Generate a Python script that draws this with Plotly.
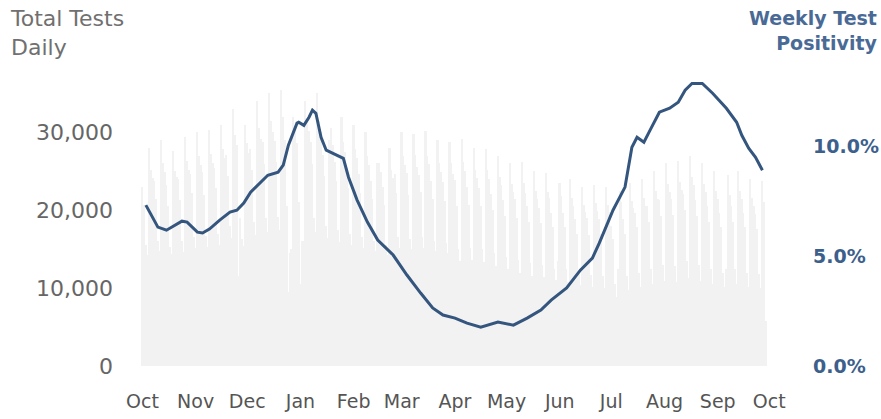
import pandas as pd
import plotly.graph_objects as go

# ---------------- data ----------------
bar_start = "2020-10-01"
# daily total tests (thousands); each row is one week Thu..Wed
daily_tests_k = [
    [23.0, 20.7, 15.5, 14.3, 28.0, 25.2, 24.1],
    [23.8, 21.5, 16.0, 14.7, 29.0, 26.1, 24.9],
    [23.2, 20.5, 15.3, 14.4, 27.6, 25.0, 24.3],
    [24.0, 21.3, 16.1, 14.6, 29.4, 26.3, 25.1],
    [24.6, 22.2, 16.5, 15.1, 30.0, 27.0, 25.8],
    [24.9, 22.0, 16.7, 15.3, 30.3, 27.2, 26.0],
    [25.4, 22.9, 17.0, 15.5, 31.0, 27.9, 26.7],
    [27.1, 24.4, 18.0, 16.4, 33.0, 29.7, 28.4],
    [11.5, 19.0, 16.3, 15.4, 31.0, 28.6, 27.4],
    [27.9, 25.2, 18.5, 16.8, 34.0, 30.6, 29.2],
    [28.7, 25.9, 19.0, 17.2, 35.0, 31.5, 30.1],
    [28.9, 26.2, 19.1, 17.4, 35.4, 32.0, 29.0],
    [20.5, 9.5, 14.5, 15.0, 32.0, 30.5, 28.6],
    [21.0, 10.5, 16.0, 16.0, 34.0, 31.5, 30.2],
    [28.7, 25.9, 19.0, 17.2, 35.0, 31.5, 30.1],
    [27.1, 24.4, 18.0, 16.4, 29.0, 30.5, 28.4],
    [26.2, 23.7, 17.5, 15.9, 32.0, 28.8, 27.5],
    [25.4, 22.9, 17.0, 15.5, 31.0, 27.9, 26.7],
    [24.6, 22.2, 16.5, 15.1, 30.0, 27.0, 25.8],
    [23.8, 21.5, 16.0, 14.7, 26.0, 26.1, 24.9],
    [23.0, 20.7, 15.5, 14.3, 28.0, 25.2, 24.1],
    [24.6, 22.2, 16.5, 15.1, 30.0, 27.0, 25.8],
    [24.8, 22.0, 16.3, 15.0, 29.8, 27.1, 25.6],
    [24.5, 22.3, 16.6, 15.2, 30.2, 26.9, 25.9],
    [23.8, 21.5, 16.0, 14.7, 29.0, 26.1, 24.9],
    [23.6, 21.2, 15.8, 14.5, 28.8, 26.0, 24.7],
    [23.9, 20.5, 15.0, 13.5, 29.2, 26.2, 25.0],
    [23.0, 20.7, 15.2, 13.6, 28.0, 25.2, 24.1],
    [22.8, 20.6, 15.0, 13.4, 27.8, 25.1, 24.0],
    [22.1, 20.0, 14.5, 12.9, 27.0, 24.3, 23.2],
    [21.3, 19.2, 14.0, 12.4, 26.0, 23.4, 22.4],
    [21.5, 19.0, 13.6, 12.0, 26.2, 23.5, 22.2],
    [20.5, 18.5, 13.2, 11.6, 25.0, 22.5, 21.5],
    [20.3, 18.4, 13.0, 11.4, 24.8, 22.4, 21.6],
    [19.7, 17.8, 12.5, 11.0, 13.5, 23.5, 21.8],
    [19.7, 17.8, 12.4, 10.8, 24.0, 21.6, 20.6],
    [18.9, 17.0, 11.9, 10.4, 23.0, 20.7, 19.8],
    [19.0, 16.8, 11.7, 10.2, 23.2, 20.9, 19.9],
    [18.9, 17.0, 11.6, 10.0, 23.0, 20.7, 19.8],
    [18.0, 16.3, 10.5, 8.8, 12.5, 22.5, 21.0],
    [18.9, 17.0, 11.5, 9.7, 23.5, 21.2, 20.3],
    [19.7, 17.8, 12.0, 10.1, 24.0, 21.6, 20.6],
    [20.5, 18.5, 12.5, 10.5, 25.0, 22.5, 21.5],
    [21.3, 19.2, 13.0, 10.9, 26.0, 23.4, 22.4],
    [21.5, 19.4, 12.9, 10.8, 26.3, 23.6, 22.6],
    [22.1, 20.0, 13.5, 11.3, 27.0, 24.3, 23.2],
    [21.3, 19.2, 13.0, 10.9, 26.0, 23.4, 22.4],
    [20.5, 18.5, 12.5, 10.5, 25.0, 22.5, 21.5],
    [19.7, 17.8, 12.0, 10.1, 12.5, 24.5, 22.0],
    [20.5, 18.5, 12.5, 10.5, 25.0, 22.5, 21.5],
    [19.7, 17.8, 12.0, 10.1, 24.0, 21.6, 20.6],
    [19.5, 17.6, 11.8, 10.0, 23.8, 21.0, 5.8],
]

positivity_dates = [
    "2020-10-03", "2020-10-10", "2020-10-15", "2020-10-20", "2020-10-24", "2020-10-27",
    "2020-11-02", "2020-11-05", "2020-11-09", "2020-11-15", "2020-11-21", "2020-11-25",
    "2020-11-29", "2020-12-03", "2020-12-07", "2020-12-13", "2020-12-19", "2020-12-22",
    "2020-12-25", "2020-12-30", "2020-12-31", "2021-01-03", "2021-01-06", "2021-01-08",
    "2021-01-10", "2021-01-13", "2021-01-16", "2021-01-20", "2021-01-26", "2021-01-29",
    "2021-02-03", "2021-02-09", "2021-02-15", "2021-02-24", "2021-03-04", "2021-03-12",
    "2021-03-19", "2021-03-25", "2021-04-01", "2021-04-08", "2021-04-16", "2021-04-26",
    "2021-05-05", "2021-05-13", "2021-05-21", "2021-05-27", "2021-06-05", "2021-06-13",
    "2021-06-20", "2021-06-24", "2021-06-28", "2021-07-02", "2021-07-09", "2021-07-13",
    "2021-07-16", "2021-07-20", "2021-07-23", "2021-07-29", "2021-08-04", "2021-08-09",
    "2021-08-13", "2021-08-17", "2021-08-23", "2021-08-29", "2021-09-06", "2021-09-12",
    "2021-09-15", "2021-09-19", "2021-09-23", "2021-09-27",
]
positivity_pct = [
    7.32, 6.32, 6.18, 6.41, 6.59, 6.55,
    6.09, 6.05, 6.23, 6.64, 7.00, 7.09,
    7.41, 7.91, 8.23, 8.68, 8.82, 9.14,
    10.05, 11.05, 11.09, 10.95, 11.32, 11.64,
    11.50, 10.41, 9.82, 9.68, 9.45, 8.59,
    7.55, 6.55, 5.73, 5.05, 4.14, 3.32,
    2.64, 2.32, 2.18, 1.95, 1.77, 2.00,
    1.86, 2.18, 2.55, 3.00, 3.55, 4.36,
    4.91, 5.59, 6.32, 7.09, 8.14, 9.95,
    10.41, 10.18, 10.64, 11.55, 11.73, 12.00,
    12.55, 12.86, 12.86, 12.41, 11.73, 11.09,
    10.50, 9.91, 9.50, 8.91,
]

left_ticks = [0, 10000, 20000, 30000]
left_tick_labels = ["0", "10,000", "20,000", "30,000"]
right_ticks = [0, 5, 10]
right_tick_labels = ["0.0%", "5.0%", "10.0%"]

# ---------------- figure ----------------
tests = [v * 1000 for row in daily_tests_k for v in row]
bar_dates = pd.date_range(bar_start, periods=len(tests), freq="D")

W, H = 881, 419
L, R, T, B = 139, 110, 70, 53
FONT = "DejaVu Sans, Liberation Sans, Arial, sans-serif"
BLUE = "#33557e"

fig = go.Figure()
fig.add_trace(go.Bar(x=bar_dates, y=tests, marker=dict(color="#f2f2f2", line=dict(width=0)),
                     yaxis="y", showlegend=False, hoverinfo="skip"))
fig.add_trace(go.Scatter(x=pd.to_datetime(positivity_dates), y=positivity_pct, mode="lines",
                         line=dict(color=BLUE, width=3), yaxis="y2", showlegend=False))

fig.update_layout(
    width=W, height=H,
    margin=dict(l=L, r=R, t=T, b=B, autoexpand=False),
    paper_bgcolor="white", plot_bgcolor="white",
    bargap=0,
    font=dict(family=FONT, size=18, color="#666666"),
    xaxis=dict(type="date", range=["2020-09-29", "2021-10-02"], dtick="M1",
               tick0="2020-10-01", tickformat="%b", showgrid=False, zeroline=False,
               showline=False, ticks="", tickfont=dict(size=19, color="#555555"),
               ticklabelstandoff=22, automargin=False),
    yaxis=dict(range=[0, 38000], tickvals=left_ticks, ticktext=left_tick_labels,
               showgrid=False, zeroline=False, showline=False, ticks="",
               tickfont=dict(size=22, color="#666666"), ticklabelstandoff=25,
               automargin=False),
    yaxis2=dict(range=[0, 13.47], overlaying="y", side="right", tickvals=right_ticks,
                ticktext=right_tick_labels, showgrid=False, zeroline=False,
                showline=False, ticks="",
                tickfont=dict(size=19, color="#3d5f8c", family=FONT, weight="bold"),
                ticklabelstandoff=41, automargin=False),
)

pw = W - L - R
ph = H - T - B
fig.add_annotation(text="Total Tests<br>Daily", xref="paper", yref="paper",
                   x=(8 - L) / pw, y=1 + (T - 4) / ph, xanchor="left", yanchor="top",
                   align="left", showarrow=False,
                   font=dict(size=22, color="#707070", family=FONT))
fig.add_annotation(text="<b>Weekly Test<br>Positivity</b>", xref="paper", yref="paper",
                   x=1 + (R - 1) / pw, y=1 + (T - 5) / ph, xanchor="right", yanchor="top",
                   align="right", showarrow=False,
                   font=dict(size=19, color="#4a6a96", family=FONT))

# remove the page's default 8px body margin so the figure fills the window exactly
fig.write_html("out.html", config={"displayModeBar": False},
               post_script="document.body.style.margin='0';document.body.style.overflow='hidden';")
